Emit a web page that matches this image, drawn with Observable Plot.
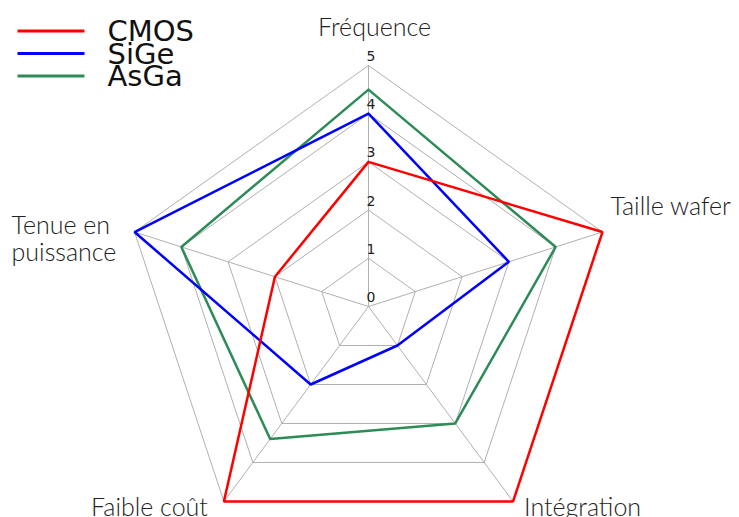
<!DOCTYPE html>
<html>
<head>
<meta charset="utf-8">
<script src="https://cdn.jsdelivr.net/npm/d3@7"></script>
<script src="https://cdn.jsdelivr.net/npm/@observablehq/plot@0.6"></script>
<style>
  html, body { margin: 0; padding: 0; background: #fff; }
  g[aria-label="legend-text"] text { letter-spacing: 3px; }
</style>
</head>
<body>
<div id="chart"></div>
<script>
// Axes (clockwise from top)
const axes = ["Fréquence", "Taille wafer", "Intégration", "Faible coût", "Tenue en\npuissance"];
const seriesNames = ["CMOS", "SiGe", "AsGa"];
const cmos = [3, 5, 5, 5, 2];
const sige = [4, 3, 1, 2, 5];
const asga = [4.5, 4, 3, 3.4, 4];
const levels = [1, 2, 3, 4, 5];
const levelLabels = ["0", "1", "2", "3", "4", "5"];
const colors = ["#ff0000", "#0000ff", "#2e8b57"];

const n = axes.length;
const ang = i => (2 * Math.PI * i) / n;
const px = (v, i) => v * Math.sin(ang(i));
const py = (v, i) => v * Math.cos(ang(i));

// grid polygons
const grid = [];
for (const L of levels) {
  for (let k = 0; k <= n; k++) {
    const i = k % n;
    grid.push({level: L, x: px(L, i), y: py(L, i)});
  }
}
// spokes
const spokes = axes.map((a, i) => ({x1: 0, y1: 0, x2: px(5, i), y2: py(5, i)}));

// series
const seriesVals = [cmos, sige, asga];
const lines = [];
// draw order: AsGa, SiGe, CMOS (CMOS on top)
for (const s of [2, 1, 0]) {
  const vals = seriesVals[s];
  for (let k = 0; k <= n; k++) {
    const i = k % n;
    lines.push({series: seriesNames[s], x: px(vals[i], i), y: py(vals[i], i)});
  }
}

// level labels along first axis
const lvl = levelLabels.map((t, j) => ({x: 0, y: j, t}));

// axis labels
const labelPos = [
  {i: 0, r: 5.45, anchor: "middle", dx: 6, dy: -16},
  {i: 1, r: 5.0, anchor: "start", dx: 8, dy: -25},
  {i: 2, r: 5.0, anchor: "start", dx: 11, dy: 6},
  {i: 3, r: 5.0, anchor: "end", dx: -16, dy: 6},
  {i: 4, r: 5.0, anchor: "start", dx: -123, dy: 7}
];
const axisLabels = labelPos.map(p => ({x: px(p.r, p.i), y: py(p.r, p.i), t: axes[p.i], anchor: p.anchor, dx: p.dx, dy: p.dy}));

// legend (in chart units, top-left)
const ux = 246 / 5, uy = 241 / 5;
const cx = 368, cy = 306;
const W = 739, H = 517;
const xDom = [-cx / ux, (W - cx) / ux];
const yDom = [(cy - H) / uy, cy / uy];
const toX = p => (p - cx) / ux;
const toY = p => (cy - p) / uy;
const legendRows = seriesNames.map((name, j) => ({name, y: toY(30.5 + j * 22.5)}));

const plot = Plot.plot({
  width: W, height: H,
  margin: 0,
  x: {domain: xDom, axis: null},
  y: {domain: yDom, axis: null},
  color: {domain: seriesNames, range: colors},
  style: {background: "#fff"},
  marks: [
    Plot.link(spokes, {x1: "x1", y1: "y1", x2: "x2", y2: "y2", stroke: "#b0b0b0", strokeWidth: 1}),
    Plot.line(grid, {x: "x", y: "y", z: "level", stroke: "#b0b0b0", strokeWidth: 1}),
    Plot.line(lines, {x: "x", y: "y", z: "series", stroke: "series", strokeWidth: 2.5, strokeLinejoin: "miter"}),
    Plot.text(lvl, {x: "x", y: "y", text: "t", textAnchor: "start", dx: -2, dy: -9, fontSize: 14, fontFamily: "DejaVu Sans", fill: "#222"}),
    ...axisLabels.map(d => Plot.text([d], {x: "x", y: "y", text: "t", textAnchor: d.anchor, dx: d.dx, dy: d.dy, fontSize: 25, fontWeight: 300, fontFamily: "Lato", fill: "#222", lineHeight: 1.05})),
    Plot.link(legendRows, {x1: toX(17), x2: toX(84), y1: "y", y2: "y", stroke: "name", strokeWidth: 3}),
    Plot.text(legendRows, {x: toX(107), y: "y", text: "name", textAnchor: "start", fontSize: 29, fontFamily: "DejaVu Sans", fill: "#111", dy: 1, ariaLabel: "legend-text"})
  ]
});
document.getElementById("chart").appendChild(plot);
</script>
</body>
</html>
